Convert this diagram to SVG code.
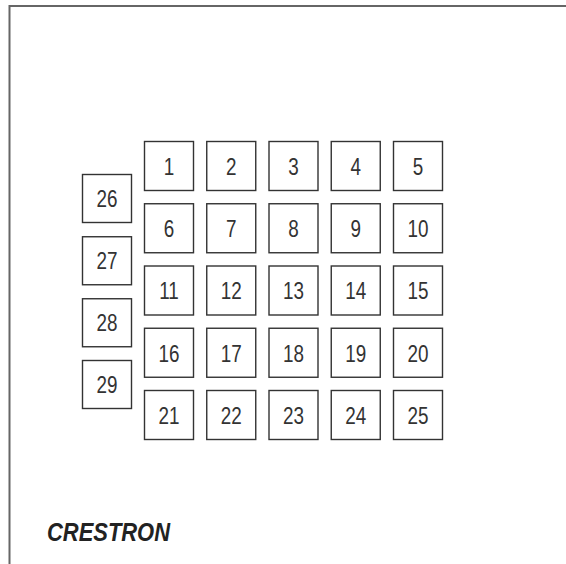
<svg xmlns="http://www.w3.org/2000/svg" width="566" height="564" viewBox="0 0 566 564">
<style>
.k rect{fill:#fff;stroke:#333;stroke-width:1.4}
.k text{font-family:"Liberation Sans",Arial,sans-serif;font-size:23px;fill:#333;text-anchor:middle;transform-box:fill-box;transform-origin:center;transform:scaleX(0.82)}
.logo{font-family:"Liberation Sans",Arial,sans-serif;font-size:25px;font-weight:bold;font-style:italic;fill:#222}
</style>
<rect width="566" height="564" fill="#fff"/>
<path d="M9.5,564 V6 H566" fill="none" stroke="#666" stroke-width="2"/>
<g class="k">
<g id="k1"><rect x="144.5" y="141.5" width="49" height="49"/><text x="169" y="175">1</text></g>
<g id="k2"><rect x="206.75" y="141.5" width="49" height="49"/><text x="231.25" y="175">2</text></g>
<g id="k3"><rect x="269" y="141.5" width="49" height="49"/><text x="293.5" y="175">3</text></g>
<g id="k4"><rect x="331.25" y="141.5" width="49" height="49"/><text x="355.75" y="175">4</text></g>
<g id="k5"><rect x="393.5" y="141.5" width="49" height="49"/><text x="418" y="175">5</text></g>
<g id="k6"><rect x="144.5" y="203.75" width="49" height="49"/><text x="169" y="237.25">6</text></g>
<g id="k7"><rect x="206.75" y="203.75" width="49" height="49"/><text x="231.25" y="237.25">7</text></g>
<g id="k8"><rect x="269" y="203.75" width="49" height="49"/><text x="293.5" y="237.25">8</text></g>
<g id="k9"><rect x="331.25" y="203.75" width="49" height="49"/><text x="355.75" y="237.25">9</text></g>
<g id="k10"><rect x="393.5" y="203.75" width="49" height="49"/><text x="418" y="237.25">10</text></g>
<g id="k11"><rect x="144.5" y="266" width="49" height="49"/><text x="169" y="299.5">11</text></g>
<g id="k12"><rect x="206.75" y="266" width="49" height="49"/><text x="231.25" y="299.5">12</text></g>
<g id="k13"><rect x="269" y="266" width="49" height="49"/><text x="293.5" y="299.5">13</text></g>
<g id="k14"><rect x="331.25" y="266" width="49" height="49"/><text x="355.75" y="299.5">14</text></g>
<g id="k15"><rect x="393.5" y="266" width="49" height="49"/><text x="418" y="299.5">15</text></g>
<g id="k16"><rect x="144.5" y="328.25" width="49" height="49"/><text x="169" y="361.75">16</text></g>
<g id="k17"><rect x="206.75" y="328.25" width="49" height="49"/><text x="231.25" y="361.75">17</text></g>
<g id="k18"><rect x="269" y="328.25" width="49" height="49"/><text x="293.5" y="361.75">18</text></g>
<g id="k19"><rect x="331.25" y="328.25" width="49" height="49"/><text x="355.75" y="361.75">19</text></g>
<g id="k20"><rect x="393.5" y="328.25" width="49" height="49"/><text x="418" y="361.75">20</text></g>
<g id="k21"><rect x="144.5" y="390.5" width="49" height="49"/><text x="169" y="424">21</text></g>
<g id="k22"><rect x="206.75" y="390.5" width="49" height="49"/><text x="231.25" y="424">22</text></g>
<g id="k23"><rect x="269" y="390.5" width="49" height="49"/><text x="293.5" y="424">23</text></g>
<g id="k24"><rect x="331.25" y="390.5" width="49" height="49"/><text x="355.75" y="424">24</text></g>
<g id="k25"><rect x="393.5" y="390.5" width="49" height="49"/><text x="418" y="424">25</text></g>
<g id="k26"><rect x="82.5" y="174.5" width="49" height="48"/><text x="107" y="207">26</text></g>
<g id="k27"><rect x="82.5" y="236.75" width="49" height="48"/><text x="107" y="269.25">27</text></g>
<g id="k28"><rect x="82.5" y="298.75" width="49" height="48"/><text x="107" y="331.25">28</text></g>
<g id="k29"><rect x="82.5" y="360.5" width="49" height="48"/><text x="107" y="393">29</text></g>
</g>
<text class="logo" x="47" y="541" textLength="123" lengthAdjust="spacingAndGlyphs">CRESTRON</text>
</svg>
